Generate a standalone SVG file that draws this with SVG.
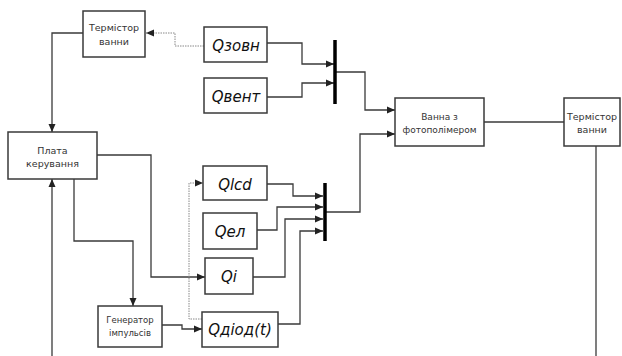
<svg xmlns="http://www.w3.org/2000/svg" width="622" height="356" viewBox="0 0 622 356">
<style>
.box{fill:#fff;stroke:#3a3a3a;stroke-width:1.5}
.ln{fill:none;stroke:#3a3a3a;stroke-width:1.3}
.dot{fill:none;stroke:#888;stroke-width:1;stroke-dasharray:1.5 1}
.bar{fill:none;stroke:#000;stroke-width:3.5}
.sm{font-family:"DejaVu Sans",Verdana,sans-serif;font-size:9.5px;fill:#333;text-anchor:middle}
.gn{font-family:"DejaVu Sans",Verdana,sans-serif;font-size:8.5px;fill:#333;text-anchor:middle}
.md{font-family:"DejaVu Sans",Verdana,sans-serif;font-size:9px;fill:#333;text-anchor:middle}
.q{font-family:"DejaVu Sans",Verdana,sans-serif;font-size:15px;font-style:italic;fill:#111;text-anchor:middle}
</style>
<defs>
<marker id="ar" markerUnits="userSpaceOnUse" markerWidth="8" markerHeight="8" refX="8" refY="4" orient="auto">
<path d="M0,0.5 L8,4 L0,7.5 z" fill="#222"/>
</marker>
</defs>
<g id="connectors">
<path class="ln" d="M83,33 H52 V132" marker-end="url(#ar)"/>
<path class="dot" d="M204,46 H175 V33 H146" marker-end="url(#ar)"/>
<path class="ln" d="M267,43 H302 V64 H334" marker-end="url(#ar)"/>
<path class="ln" d="M267,97 H302 V83 H334" marker-end="url(#ar)"/>
<path class="ln" d="M336,72 H365 V110 H395" marker-end="url(#ar)"/>
<path class="ln" d="M326,212 H360 V134 H395" marker-end="url(#ar)"/>
<path class="ln" d="M484,122 H564"/>
<path class="ln" d="M596,146 V356"/>
<path class="ln" d="M97,155 H151 V277 H205" marker-end="url(#ar)"/>
<path class="ln" d="M74,179 V241 H133 V306" marker-end="url(#ar)"/>
<path class="ln" d="M52,356 V179" marker-end="url(#ar)"/>
<path class="ln" d="M162,325 H182 V329 H202" marker-end="url(#ar)"/>
<path class="dot" d="M202,319 H189 V183 H203" marker-end="url(#ar)"/>
<path class="ln" d="M267,184 H293 V196 H323" marker-end="url(#ar)"/>
<path class="ln" d="M257,230 H277 V207 H323" marker-end="url(#ar)"/>
<path class="ln" d="M253,277 H285 V219 H323" marker-end="url(#ar)"/>
<path class="ln" d="M278,324 H300 V231 H323" marker-end="url(#ar)"/>
<path class="bar" d="M335,40 V104"/>
<path class="bar" d="M325,183 V241"/>
</g>
<g id="termistor1"><rect class="box" x="83" y="11" width="62" height="46"/><text class="sm" x="114" y="31">Термістор</text><text class="sm" x="114" y="45">ванни</text></g>
<g id="plata"><rect class="box" x="8" y="132" width="89" height="47"/><text class="sm" x="52.5" y="154">Плата</text><text class="sm" x="52.5" y="167">керування</text></g>
<g id="qzovn"><rect class="box" x="204" y="27" width="63" height="35"/><text class="q" x="236" y="51">Qзовн</text></g>
<g id="qvent"><rect class="box" x="204" y="78" width="63" height="35"/><text class="q" x="236" y="102">Qвент</text></g>
<g id="vanna"><rect class="box" x="395" y="98" width="89" height="48"/><text class="md" x="439.5" y="119.5">Ванна з</text><text class="md" x="439.5" y="133">фотополімером</text></g>
<g id="termistor2"><rect class="box" x="564" y="98" width="56" height="48"/><text class="sm" x="592" y="119.5">Термістор</text><text class="sm" x="592" y="133">ванни</text></g>
<g id="qlcd"><rect class="box" x="203" y="166" width="64" height="34"/><text class="q" x="235" y="190">Qlcd</text></g>
<g id="qel"><rect class="box" x="203" y="213" width="54" height="36"/><text class="q" x="230" y="237">Qел</text></g>
<g id="qi"><rect class="box" x="205" y="258" width="48" height="36"/><text class="q" x="229" y="282">Qi</text></g>
<g id="qdiod"><rect class="box" x="202" y="312" width="76" height="35"/><text class="q" x="240" y="335">Qдіод(t)</text></g>
<g id="generator"><rect class="box" x="98" y="306" width="64" height="41"/><text class="gn" x="130" y="323">Генератор</text><text class="gn" x="130" y="336">імпульсів</text></g>
</svg>
